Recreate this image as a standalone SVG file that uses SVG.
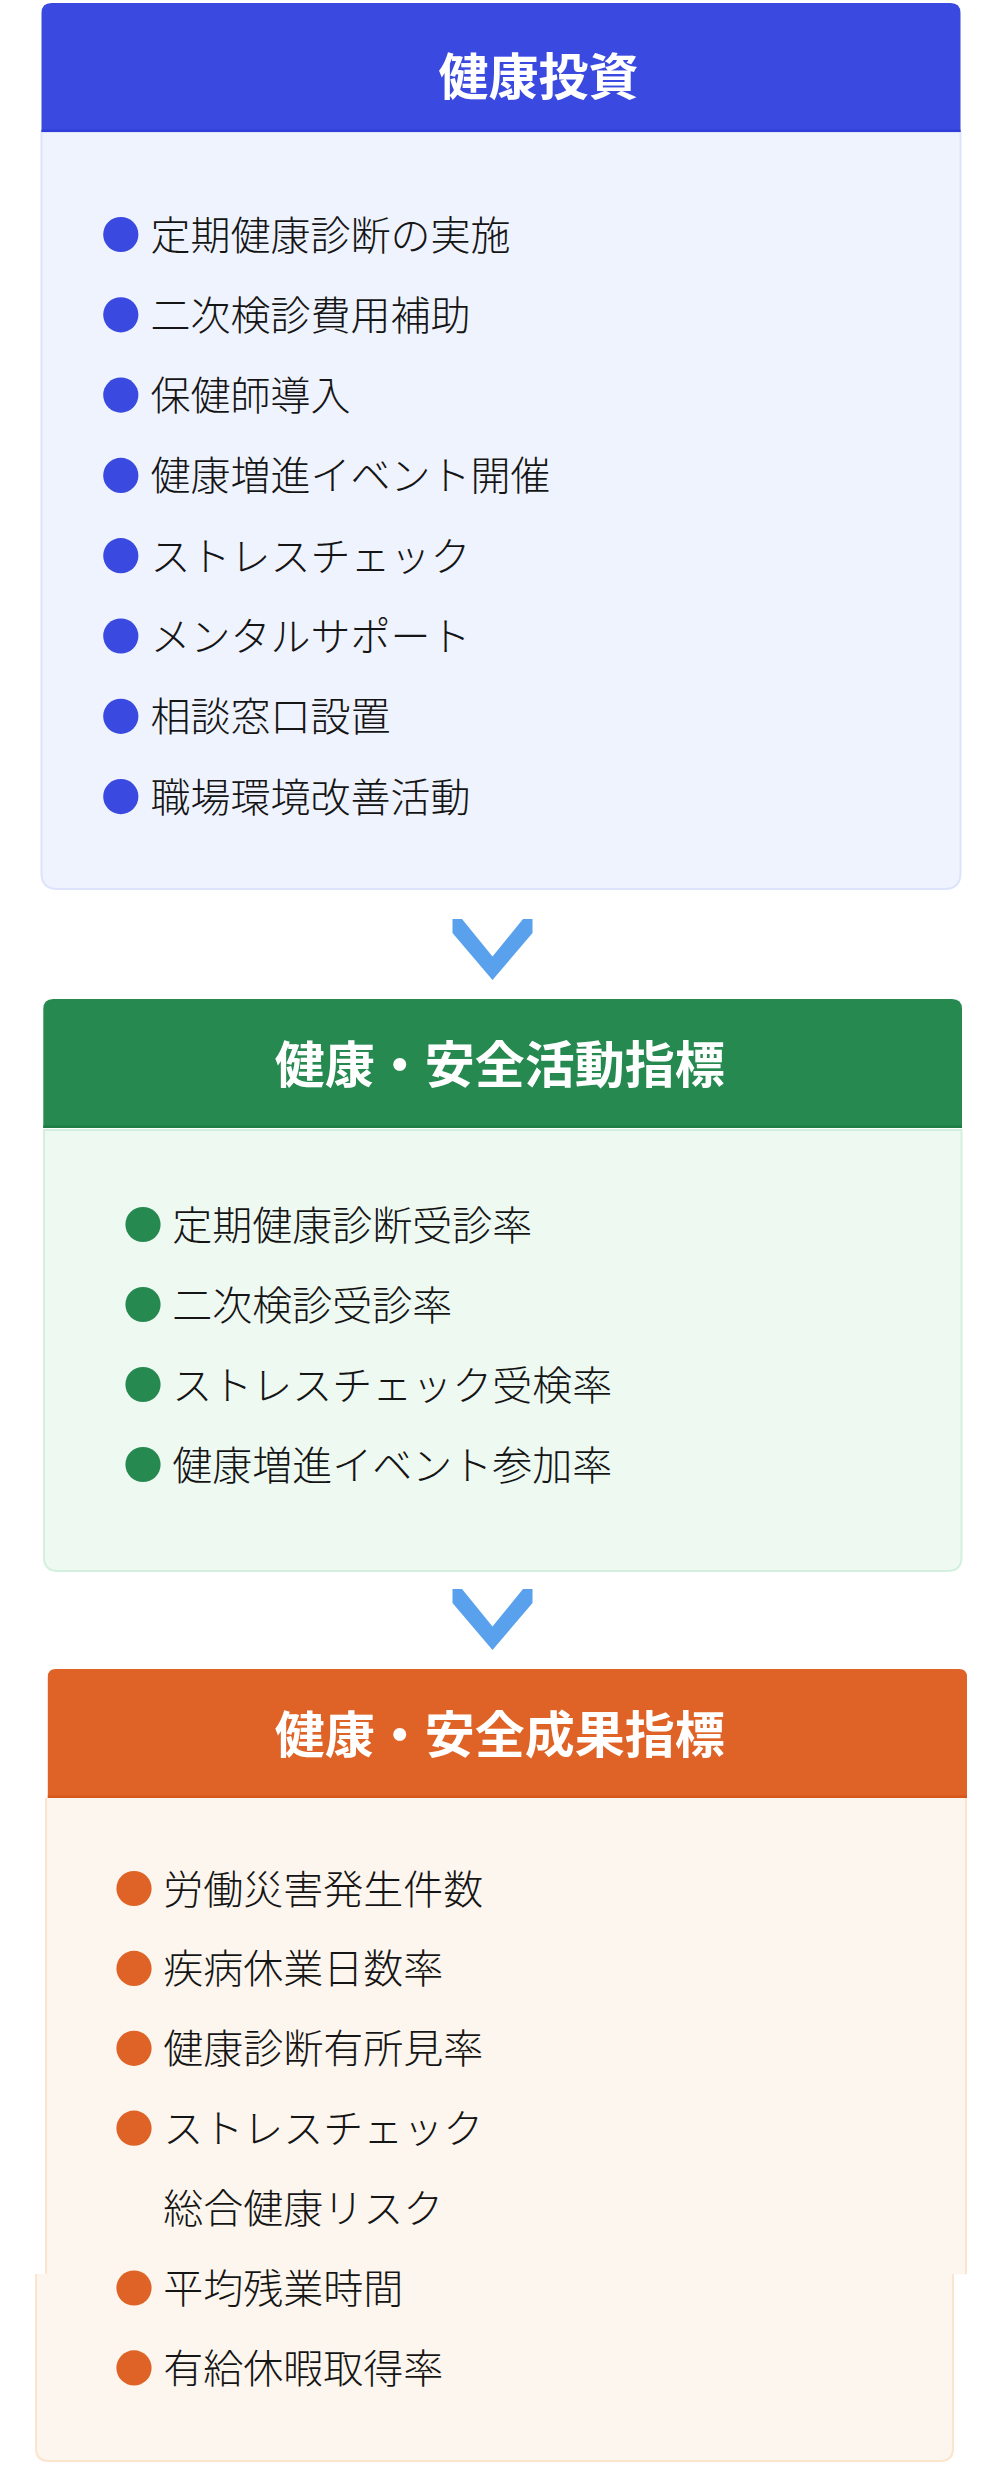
<svg xmlns="http://www.w3.org/2000/svg" width="1000" height="2480" viewBox="0 0 1000 2480">
<defs>
<style>
.title{font-family:"Noto Sans CJK JP","Noto Sans CJK SC",sans-serif;font-size:50px;font-weight:700;fill:#ffffff;text-anchor:middle}
.item{font-family:"Noto Sans CJK JP","Noto Sans CJK SC",sans-serif;font-size:40px;font-weight:300;fill:#151515}
.chev{fill:#59A1EC}
</style>
</defs>
<rect x="0" y="0" width="1000" height="2480" fill="#ffffff"/>

<g id="card-investment">
<path d="M41.5 132 H960.5 V873 Q960.5 889 944.5 889 H57.5 Q41.5 889 41.5 873 Z" fill="#EFF3FE" stroke="#DDE3FB" stroke-width="2"/>
<path d="M41.5 132 V13 Q41.5 3 51.5 3 H950.5 Q960.5 3 960.5 13 V132 Z" fill="#3A49E0"/>
<rect x="41.5" y="129.5" width="919" height="2.5" fill="#2E3ED6"/>
<text class="title" x="538.6" y="94.5">健康投資</text>
<g fill="#3A49E0">
<circle cx="120.8" cy="234.5" r="17.6"/>
<circle cx="120.8" cy="314.8" r="17.6"/>
<circle cx="120.8" cy="395.1" r="17.6"/>
<circle cx="120.8" cy="475.4" r="17.6"/>
<circle cx="120.8" cy="555.7" r="17.6"/>
<circle cx="120.8" cy="636" r="17.6"/>
<circle cx="120.8" cy="716.3" r="17.6"/>
<circle cx="120.8" cy="796.6" r="17.6"/>
</g>
<text class="item" x="150.5" y="249.5">定期健康診断の実施</text>
<text class="item" x="150.5" y="329.8">二次検診費用補助</text>
<text class="item" x="150.5" y="410.1">保健師導入</text>
<text class="item" x="150.5" y="490.4">健康増進イベント開催</text>
<text class="item" x="150.5" y="570.7">ストレスチェック</text>
<text class="item" x="150.5" y="651">メンタルサポート</text>
<text class="item" x="150.5" y="731.3">相談窓口設置</text>
<text class="item" x="150.5" y="811.6">職場環境改善活動</text>
</g>

<g id="card-activity">
<path d="M44 1130 H961.5 V1557 Q961.5 1571 947.5 1571 H58 Q44 1571 44 1557 Z" fill="#EEF9F2" stroke="#D3F0DE" stroke-width="2"/>
<path d="M43.3 1128 V1009 Q43.3 999 53.3 999 H952 Q962 999 962 1009 V1128 Z" fill="#268A50"/>
<rect x="43.3" y="1125.5" width="918.7" height="2.5" fill="#1E7C44"/>
<text class="title" x="499.7" y="1083">健康・安全活動指標</text>
<g fill="#268A50">
<circle cx="143" cy="1224.5" r="17.6"/>
<circle cx="143" cy="1304.5" r="17.6"/>
<circle cx="143" cy="1384.5" r="17.6"/>
<circle cx="143" cy="1464.5" r="17.6"/>
</g>
<text class="item" x="172.3" y="1239.5">定期健康診断受診率</text>
<text class="item" x="172.3" y="1319.5">二次検診受診率</text>
<text class="item" x="172.3" y="1399.5">ストレスチェック受検率</text>
<text class="item" x="172.3" y="1479.5">健康増進イベント参加率</text>
</g>

<g id="card-outcome">
<rect x="45" y="1798" width="922" height="476.5" fill="#FDF6EE"/>
<path d="M35 2274 H954 V2448 Q954 2462 940 2462 H49 Q35 2462 35 2448 Z" fill="#FDF6EE"/>
<path d="M46 1798 V2274 M966 1798 V2274" stroke="#FCE4CD" stroke-width="2" fill="none"/>
<path d="M36 2274 V2448 Q36 2461 49 2461 H940 Q953 2461 953 2448 V2274" stroke="#FCE4CD" stroke-width="2" fill="none"/>
<path d="M47.8 1798 V1677 Q47.8 1669 55.8 1669 H959 Q967 1669 967 1677 V1798 Z" fill="#DF6326"/>
<rect x="47.8" y="1795.5" width="919.2" height="2.5" fill="#D5571C"/>
<text class="title" x="499.7" y="1753">健康・安全成果指標</text>
<g fill="#DF6326">
<circle cx="134" cy="1888.5" r="17.6"/>
<circle cx="134" cy="1968.4" r="17.6"/>
<circle cx="134" cy="2048.3" r="17.6"/>
<circle cx="134" cy="2128.2" r="17.6"/>
<circle cx="134" cy="2288" r="17.6"/>
<circle cx="134" cy="2367.9" r="17.6"/>
</g>
<text class="item" x="163.3" y="1903.5">労働災害発生件数</text>
<text class="item" x="163.3" y="1983.4">疾病休業日数率</text>
<text class="item" x="163.3" y="2063.3">健康診断有所見率</text>
<text class="item" x="163.3" y="2143.2">ストレスチェック</text>
<text class="item" x="163.3" y="2223.1">総合健康リスク</text>
<text class="item" x="163.3" y="2303">平均残業時間</text>
<text class="item" x="163.3" y="2382.9">有給休暇取得率</text>
</g>

<g id="connectors">
<polygon class="chev" points="452.5,919 462,919 492.5,956.5 523,919 532.5,919 532.5,933 492.5,980 452.5,933"/>
<polygon class="chev" points="452.5,1589 462,1589 492.5,1626.5 523,1589 532.5,1589 532.5,1603 492.5,1650 452.5,1603"/>
</g>
</svg>
